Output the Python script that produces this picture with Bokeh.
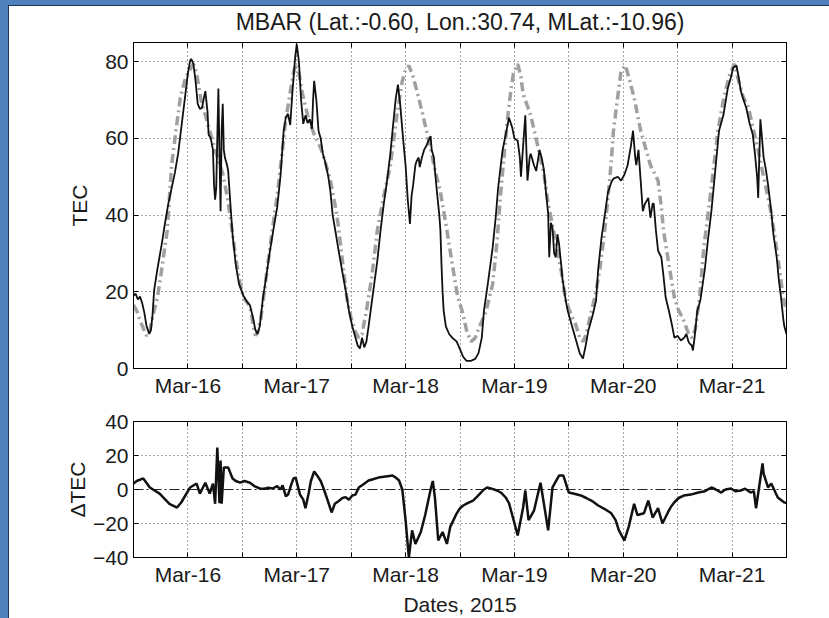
from bokeh.plotting import figure
from bokeh.models import FixedTicker, LinearAxis, Range1d, Span
from bokeh.layouts import column
from bokeh.embed import file_html
from bokeh.resources import INLINE

title_text = "MBAR (Lat.:-0.60, Lon.:30.74, MLat.:-10.96)"
x_label = "Dates, 2015"
day_ticks = [16, 17, 18, 19, 20, 21]
day_labels = ["Mar-16", "Mar-17", "Mar-18", "Mar-19", "Mar-20", "Mar-21"]
half_ticks = [16.5, 17.5, 18.5, 19.5, 20.5, 21.5]
tec_ticks = [0, 20, 40, 60, 80]
dtec_ticks = [-40, -20, 0, 20, 40]
dtec_tick_labels = ["\u221240", "\u221220", "0", "20", "40"]

# observed TEC (black)
tec_day = [15.50, 15.52, 15.54, 15.56, 15.58, 15.60, 15.62, 15.645, 15.66, 15.675, 15.69, 15.72, 15.76, 15.79, 15.82, 15.85, 15.88, 15.91, 15.94, 15.97,
           16.00, 16.02, 16.03, 16.05, 16.07, 16.09, 16.11, 16.13, 16.15, 16.16,
           16.18, 16.19, 16.21, 16.23, 16.24, 16.25, 16.26, 16.27, 16.28, 16.29,
           16.30, 16.31, 16.32, 16.33, 16.34, 16.36, 16.37, 16.39, 16.41, 16.44,
           16.47, 16.51, 16.54, 16.57, 16.60, 16.62, 16.64, 16.66, 16.69, 16.72,
           16.75, 16.79, 16.82, 16.85, 16.88, 16.90, 16.92, 16.94, 16.96, 16.985,
           17.00, 17.02, 17.04, 17.06, 17.08, 17.10, 17.12, 17.14, 17.15, 17.16,
           17.18, 17.20, 17.22, 17.24, 17.26, 17.29, 17.31, 17.33, 17.36, 17.38,
           17.42, 17.45, 17.48, 17.51, 17.54, 17.56, 17.58, 17.60, 17.62, 17.64,
           17.66, 17.70, 17.74, 17.77, 17.80, 17.83, 17.86, 17.88, 17.91, 17.93,
           17.95, 17.98,
           18.00, 18.02, 18.04, 18.055, 18.07, 18.09, 18.10, 18.12, 18.13, 18.15,
           18.17, 18.19, 18.21, 18.23, 18.24, 18.26, 18.27, 18.29, 18.31, 18.32,
           18.33, 18.34, 18.35, 18.37, 18.40, 18.43, 18.47, 18.50, 18.53, 18.56,
           18.60, 18.64, 18.67, 18.70, 18.72, 18.76, 18.80, 18.83, 18.85, 18.89,
           18.92, 18.95, 18.98,
           19.00, 19.03, 19.05, 19.06, 19.08, 19.10, 19.11, 19.12, 19.14, 19.15,
           19.18, 19.20, 19.22, 19.23, 19.25, 19.27, 19.29, 19.31, 19.32, 19.335,
           19.35, 19.365, 19.38, 19.395, 19.41, 19.43, 19.44, 19.47, 19.49, 19.52,
           19.54, 19.57, 19.60, 19.63, 19.655, 19.68, 19.72, 19.75, 19.77, 19.80,
           19.83, 19.86, 19.89, 19.91, 19.95, 19.98,
           20.01, 20.04, 20.07, 20.09, 20.11, 20.12, 20.14, 20.16, 20.18, 20.20,
           20.23, 20.25, 20.27, 20.28, 20.30, 20.32, 20.35, 20.37, 20.39, 20.42,
           20.45, 20.47, 20.50, 20.53, 20.56, 20.58, 20.60, 20.61, 20.63, 20.64,
           20.655, 20.68, 20.71, 20.75, 20.78, 20.81, 20.83, 20.86, 20.88, 20.92,
           20.96, 20.99,
           21.01, 21.04, 21.06, 21.08, 21.10, 21.13, 21.16, 21.19, 21.21, 21.23,
           21.24, 21.25, 21.26, 21.275, 21.29, 21.31, 21.33, 21.36, 21.38, 21.41,
           21.43, 21.45, 21.47, 21.48, 21.50]
tec_val = [19.0, 19.5, 18.0, 18.8, 17.0, 14.5, 11.0, 9.0, 10.0, 14.0, 20.5, 26.0, 32.5, 38.0, 43.0, 47.0, 51.0, 56.0, 63.0, 70.0,
           77.0, 80.2, 80.7, 79.5, 75.0, 69.0, 67.7, 68.0, 71.0, 72.3,
           67.0, 61.0, 60.0, 57.0, 48.0, 44.0, 47.0, 60.0, 73.0, 56.0,
           41.0, 62.0, 69.0, 57.0, 55.0, 53.0, 51.5, 43.0, 35.0, 27.0,
           22.0, 19.0, 17.5, 16.5, 13.0, 10.0, 9.0, 11.0, 18.5, 24.0,
           30.0, 37.0, 42.0, 50.0, 62.0, 65.5, 66.4, 63.5, 72.0, 81.0,
           84.6, 80.0, 70.0, 63.8, 66.0, 64.0, 65.0, 62.5, 70.0, 75.0,
           70.0, 62.0, 60.0, 56.0, 54.0, 50.0, 46.0, 40.0, 35.0, 31.5,
           25.0, 20.3, 15.0, 11.0, 8.0, 6.0, 5.2, 8.0, 5.5, 7.0,
           11.0, 19.5, 28.0, 36.0, 43.0, 49.0, 56.0, 62.0, 70.5, 74.0,
           69.0, 59.0,
           53.0, 44.0, 37.7, 45.0, 48.0, 53.0, 54.0, 55.0, 52.5, 55.0,
           57.0, 58.0, 59.4, 60.6, 57.0, 55.0, 51.5, 45.5, 40.0, 36.0,
           27.0, 20.0, 15.0, 11.0, 9.0, 8.0, 7.0, 5.0, 3.0, 2.0,
           2.0, 2.5, 4.0, 8.0, 15.0, 23.0, 31.5, 40.0, 47.0, 56.7,
           61.0, 65.4, 62.8,
           60.0, 59.4, 55.0, 50.0, 58.0, 66.0, 57.0, 49.0, 55.0, 56.0,
           53.0, 51.5, 55.0, 57.0, 55.0, 52.0, 46.0, 40.4, 29.0, 38.0,
           36.7, 30.0, 29.0, 35.0, 32.5, 27.0, 23.7, 18.0, 15.0, 12.0,
           10.0, 7.0, 4.0, 2.6, 6.0, 10.0, 14.0, 17.7, 26.0, 34.0,
           40.0, 46.0, 48.5, 49.5, 50.0, 49.0,
           50.5, 53.0, 58.0, 62.0, 55.0, 53.0, 57.0, 49.0, 41.0, 43.0,
           44.5, 39.3, 43.0, 43.0, 36.0, 30.7, 29.0, 24.0, 18.5, 15.0,
           11.0, 8.0, 8.5, 7.3, 8.0, 9.0, 7.0, 6.5, 6.0, 4.7,
           8.0, 15.0, 18.0, 26.0, 34.0, 41.0, 47.0, 56.0, 62.0, 66.0,
           73.0, 76.0,
           78.4, 79.0, 76.0, 72.4, 70.5, 68.0, 64.0, 61.0, 56.0, 50.0,
           44.5, 55.0, 65.0, 60.0, 55.0, 52.0, 48.0, 41.0, 35.0, 29.0,
           23.0, 18.5, 13.0, 11.0, 9.0]

# reference (quiet) TEC (grey dash-dot)
ref_day = [15.50, 15.53, 15.56, 15.59, 15.62, 15.65, 15.68, 15.72, 15.76, 15.81, 15.85, 15.89, 15.93, 15.97,
           16.00, 16.05, 16.08, 16.12, 16.16, 16.20, 16.26, 16.32, 16.36, 16.39, 16.42, 16.45, 16.48, 16.51,
           16.55, 16.58, 16.60, 16.62, 16.64, 16.67, 16.72, 16.77, 16.82, 16.86, 16.90, 16.94, 16.97, 16.99,
           17.02, 17.05, 17.10, 17.16, 17.22, 17.27, 17.31, 17.35, 17.38, 17.42, 17.46, 17.50, 17.54, 17.57,
           17.60, 17.64, 17.69, 17.74, 17.80, 17.86, 17.92, 17.97,
           18.00, 18.03, 18.07, 18.12, 18.16, 18.20, 18.23, 18.26, 18.32, 18.38, 18.43, 18.48, 18.52, 18.56,
           18.60, 18.64, 18.68, 18.74, 18.80, 18.84, 18.87, 18.91, 18.94, 18.97, 18.99,
           19.03, 19.06, 19.08, 19.15, 19.21, 19.27, 19.31, 19.36, 19.40, 19.43, 19.47, 19.52, 19.56, 19.60,
           19.63, 19.66, 19.70, 19.75, 19.79, 19.83, 19.86, 19.89, 19.91, 19.95, 19.98,
           20.02, 20.06, 20.10, 20.16, 20.20, 20.25, 20.32, 20.35, 20.37, 20.42, 20.47, 20.51, 20.55, 20.60,
           20.63, 20.66, 20.70, 20.74, 20.80, 20.87, 20.92, 20.97,
           21.02, 21.06, 21.10, 21.15, 21.22, 21.29, 21.36, 21.40, 21.43, 21.47, 21.50]
ref_val = [16.5, 15.0, 12.5, 10.5, 8.5, 10.0, 14.0, 18.5, 26.0, 36.0, 53.0, 62.0, 70.6, 75.0,
           77.0, 79.4, 77.0, 70.0, 66.0, 62.0, 56.0, 50.8, 45.0, 39.3, 33.0, 27.0, 22.0, 18.5,
           17.0, 15.0, 11.0, 8.6, 9.5, 13.0, 24.0, 35.0, 45.0, 55.0, 65.0, 72.0, 77.0, 79.4,
           77.0, 72.0, 66.0, 61.0, 57.5, 53.0, 49.0, 43.0, 37.7, 28.0, 18.5, 13.0, 9.5, 8.0,
           9.0, 15.0, 24.0, 36.0, 45.0, 53.0, 66.0, 75.0,
           78.0, 79.0, 76.0, 70.6, 66.0, 61.0, 57.5, 53.0, 46.0, 36.0, 27.0, 18.5, 15.0, 10.0,
           7.0, 8.0, 11.0, 15.0, 22.0, 33.0, 44.5, 57.0, 66.0, 73.0, 76.8,
           79.4, 76.0, 71.6, 66.0, 58.6, 50.8, 43.0, 36.0, 30.0, 25.5, 18.0, 14.0, 11.7, 8.0,
           7.0, 9.0, 14.0, 20.0, 27.0, 36.0, 44.5, 54.0, 62.0, 71.0, 77.6,
           79.0, 75.0, 70.6, 62.0, 58.0, 53.0, 49.0, 42.0, 36.0, 27.0, 18.5, 15.0, 13.0, 9.0,
           8.0, 10.0, 18.0, 31.5, 45.0, 62.0, 70.0, 76.0,
           79.4, 75.0, 71.0, 68.0, 59.4, 50.0, 40.4, 33.0, 27.0, 18.5, 15.0]

# delta TEC (black, lower panel)
dtec_day = [15.50, 15.53, 15.59, 15.65, 15.74, 15.83, 15.90, 15.94, 16.02, 16.08,
            16.11, 16.16, 16.20, 16.23, 16.25, 16.27, 16.29, 16.30, 16.31, 16.33,
            16.37, 16.41, 16.44, 16.48, 16.52, 16.57, 16.61, 16.66, 16.70, 16.74,
            16.78, 16.82, 16.85, 16.87, 16.90, 16.92, 16.95, 16.97, 16.99, 17.01,
            17.03, 17.06, 17.08, 17.11, 17.13, 17.16, 17.19, 17.22, 17.25, 17.29,
            17.32, 17.35, 17.38, 17.42, 17.45, 17.48, 17.51, 17.54, 17.57, 17.61,
            17.66, 17.70, 17.75, 17.80, 17.85, 17.88, 17.91, 17.94, 17.97, 18.00,
            18.03, 18.06, 18.09, 18.14, 18.18, 18.23, 18.25, 18.27, 18.30, 18.34,
            18.38, 18.41, 18.44, 18.47, 18.50, 18.53, 18.57, 18.62, 18.66, 18.69,
            18.72, 18.75, 18.79, 18.84, 18.88, 18.92, 18.95, 18.98, 19.03, 19.08,
            19.10, 19.13, 19.18, 19.24, 19.31, 19.35, 19.41, 19.45, 19.50, 19.55,
            19.61, 19.66, 19.72, 19.77, 19.83, 19.89, 19.93, 19.96, 20.01, 20.05,
            20.10, 20.13, 20.19, 20.23, 20.27, 20.32, 20.36, 20.41, 20.44, 20.47,
            20.51, 20.56, 20.62, 20.69, 20.75, 20.81, 20.85, 20.90, 20.94, 20.99,
            21.03, 21.08, 21.12, 21.17, 21.20, 21.22, 21.28, 21.29, 21.33, 21.36,
            21.42, 21.48, 21.50]
dtec_val = [3.5, 5.0, 6.5, 1.2, -2.4, -8.4, -10.6, -7.5, 1.2, 3.5,
            -2.4, 4.0, -2.4, 3.5, -8.4, 24.7, -8.0, 17.0, -8.4, 13.0,
            13.0, 6.5, 5.0, 4.0, 5.0, 4.0, 2.0, 0.6, 0.5, 1.0,
            0.6, 2.0, 0.0, 2.4, -4.0, -3.0, 3.0, 6.5, 7.0, 2.0,
            -3.0, -6.0, -11.0, -2.0, 5.0, 10.6, 8.0, 5.0, 0.0, -7.5,
            -13.5, -8.4, -7.0, -5.0, -4.5, -6.0, -3.5, -3.0, 1.2, 3.0,
            5.3, 6.0, 7.0, 7.5, 8.0, 8.2, 7.0, 5.3, 0.0, -18.0,
            -40.0, -24.0, -32.0, -25.0, -15.0, 0.0, 5.0, -5.0, -30.0, -25.0,
            -32.0, -22.0, -18.0, -14.0, -11.0, -9.4, -8.0, -6.5, -4.0, -2.0,
            0.0, 1.2, 0.5, -0.6, -2.0, -4.7, -8.0, -15.0, -27.0, -10.6,
            -0.6, -18.0, -12.4, 4.0, -24.0, 1.2, 8.2, 8.2, -1.8, -2.5,
            -3.5, -5.0, -7.0, -9.4, -11.5, -14.0, -18.0, -24.0, -30.0, -22.0,
            -8.4, -15.0, -14.0, -6.5, -16.5, -11.0, -20.0, -13.5, -10.0, -7.5,
            -5.0, -3.5, -3.0, -1.8, -1.0, 1.2, 0.0, -1.8, 0.0, 0.6,
            -1.0, -0.6, 0.5, -1.8, -1.0, -11.0, 15.3, 9.4, 1.2, 3.5,
            -4.7, -7.6, -8.0]

assert len(tec_day) == len(tec_val)
assert len(ref_day) == len(ref_val)
assert len(dtec_day) == len(dtec_val)

FONT = "Liberation Sans"
FS = "21px"
TXT = "#1a1a1a"


def tick_style(ax):
    ax.major_tick_in = 5
    ax.major_tick_out = 0
    ax.minor_tick_in = 5
    ax.minor_tick_out = 0
    ax.axis_line_color = "black"
    ax.major_tick_line_color = "black"
    ax.minor_tick_line_color = "black"


def make_fig(height, yr, yticks, ylabels, grid_y, top, bottom, label_standoff):
    p = figure(width=820, height=height, x_range=Range1d(15.5, 21.5), y_range=Range1d(*yr),
               output_backend="svg", toolbar_location=None,
               min_border_left=124, min_border_right=43, min_border_top=top, min_border_bottom=bottom)
    p.background_fill_color = "white"
    p.border_fill_color = "white"
    p.outline_line_color = "black"
    p.outline_line_width = 1
    xa = p.below[0]
    ya = p.left[0]
    for ax in (xa, ya):
        tick_style(ax)
        ax.major_label_text_font = FONT
        ax.major_label_text_font_size = FS
        ax.major_label_text_color = TXT
        ax.axis_label_text_font = FONT
        ax.axis_label_text_font_size = FS
        ax.axis_label_text_font_style = "normal"
        ax.axis_label_text_color = TXT
    xa.ticker = FixedTicker(ticks=day_ticks, minor_ticks=half_ticks)
    xa.major_label_overrides = {d: lab for d, lab in zip(day_ticks, day_labels)}
    xa.major_label_standoff = 5
    ya.ticker = FixedTicker(ticks=yticks, minor_ticks=[])
    ya.major_label_overrides = {t: l for t, l in zip(yticks, ylabels)}
    ya.major_label_standoff = 5
    ya.axis_label_standoff = label_standoff

    # mirrored tick marks (no labels) on the right and top
    ra = LinearAxis(ticker=FixedTicker(ticks=[], minor_ticks=yticks))
    tick_style(ra)
    p.add_layout(ra, "right")
    ta = LinearAxis(ticker=FixedTicker(ticks=[], minor_ticks=day_ticks + half_ticks))
    tick_style(ta)
    p.add_layout(ta, "above")

    p.xgrid.ticker = FixedTicker(ticks=day_ticks, minor_ticks=half_ticks)
    p.ygrid.ticker = FixedTicker(ticks=grid_y, minor_ticks=[])
    for g in (p.xgrid[0], p.ygrid[0]):
        g.grid_line_color = "#222222"
        g.grid_line_alpha = 0.8
        g.grid_line_width = 1
        g.grid_line_dash = "1 3"
    g = p.xgrid[0]
    g.minor_grid_line_color = "#222222"
    g.minor_grid_line_alpha = 0.8
    g.minor_grid_line_width = 1
    g.minor_grid_line_dash = "1 3"
    return p, xa, ya


# title strip
p0 = figure(width=820, height=33, title=title_text, x_range=Range1d(0, 1), y_range=Range1d(0, 1),
            x_axis_location=None, y_axis_location=None, output_backend="svg", toolbar_location=None,
            min_border_left=110, min_border_right=43, min_border_top=0, min_border_bottom=0)
p0.outline_line_color = None
p0.grid.visible = False
p0.background_fill_color = "white"
p0.border_fill_color = "white"
p0.title.align = "center"
p0.title.text_font = FONT
p0.title.text_font_size = "23px"
p0.title.text_font_style = "normal"
p0.title.text_color = TXT
p0.title.standoff = 0

p1, xa1, ya1 = make_fig(361, (0, 85), tec_ticks, [str(t) for t in tec_ticks], [20, 40, 60, 80],
                        3, 32, 11)
ya1.axis_label = "TEC"
p1.line(ref_day, ref_val, line_color="#a0a0a0", line_width=3.5, line_dash="9 4 2 4")
p1.line(tec_day, tec_val, line_color="#111111", line_width=1.8)

p2, xa2, ya2 = make_fig(218, (-40, 40), dtec_ticks, dtec_tick_labels, [-20, 20], 21, 61, 1)
ya2.axis_label = "\u0394TEC"
xa2.axis_label = x_label
xa2.axis_label_standoff = 4
zero = Span(location=0, dimension="width", line_color="#222222", line_width=1,
            line_dash="10 3 2 3", level="underlay")
p2.add_layout(zero)
p2.line(dtec_day, dtec_val, line_color="#111111", line_width=2.5)

layout = column(p0, p1, p2, spacing=0)

html = file_html(layout, INLINE)
style = ("<style>"
         "html{background:#4f81bd !important; overflow:hidden !important;}"
         "body{margin:5px 0 0 8px !important; padding:0 !important; height:auto !important;"
         "border-left:1px solid #1d3557; border-top:1px solid #1d3557; background:#ffffff !important;}"
         "</style>")
html = html.replace("</head>", style + "</head>", 1)
open("out.html", "w").write(html)
